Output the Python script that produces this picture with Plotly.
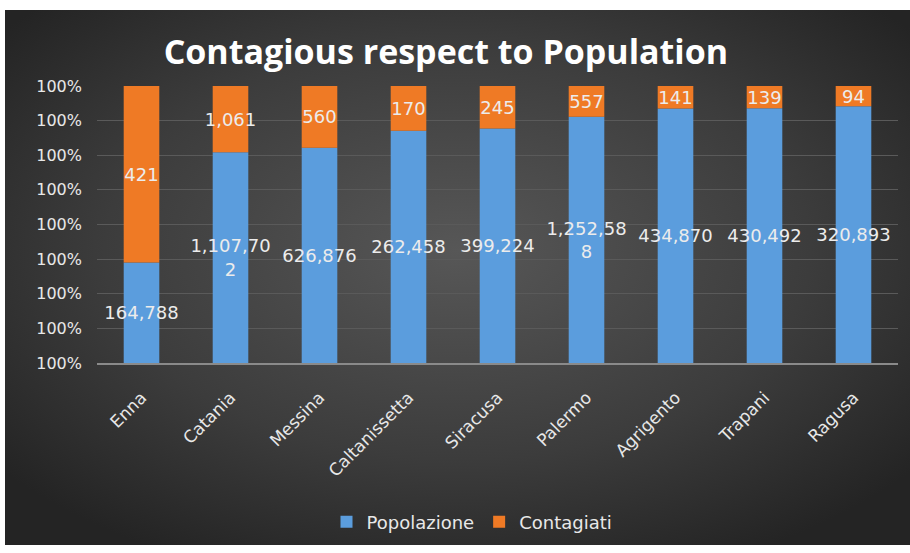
import base64
import plotly.graph_objects as go

provinces = ["Enna", "Catania", "Messina", "Caltanissetta", "Siracusa",
             "Palermo", "Agrigento", "Trapani", "Ragusa"]
popolazione = [164788, 1107702, 626876, 262458, 399224, 1252588, 434870, 430492, 320893]
contagiati = [421, 1061, 560, 170, 245, 557, 141, 139, 94]

Y_MIN, Y_MAX = 99.6, 100.0


def fmt(v):
    s = f"{v:,}"
    return s if len(s) <= 8 else s[:8] + "<br>" + s[8:]


# share of population (percent of the total of the two series)
share = [p / (p + c) * 100 for p, c in zip(popolazione, contagiati)]

W, H = 910, 553
L, R, T, B = 97, 12, 86, 190
pw, ph = W - L - R, H - T - B

svg = """<svg xmlns='http://www.w3.org/2000/svg' width='905' height='535' preserveAspectRatio='none'>
<defs><radialGradient id='g' cx='50%' cy='45%' r='65%'>
<stop offset='0' stop-color='#575757'/><stop offset='0.6' stop-color='#3c3c3c'/><stop offset='1' stop-color='#242424'/>
</radialGradient></defs><rect width='905' height='535' fill='url(#g)'/></svg>"""
src = "data:image/svg+xml;base64," + base64.b64encode(svg.encode()).decode()

LABEL_FONT = dict(color="#ececec", size=18, family="DejaVu Sans")

fig = go.Figure()
fig.add_trace(go.Bar(
    x=provinces, y=[s - Y_MIN for s in share], base=Y_MIN, name="Popolazione",
    marker=dict(color="#5b9ddd", line=dict(width=0)),
    text=[fmt(v) for v in popolazione], textposition="inside",
    insidetextanchor="middle", textangle=0, constraintext="none",
    textfont=LABEL_FONT, customdata=popolazione,
))
fig.add_trace(go.Bar(
    x=provinces, y=[Y_MAX - s for s in share], base=share, name="Contagiati",
    marker=dict(color="#ef7a25", line=dict(width=0)),
    text=[fmt(v) for v in contagiati], textposition="inside",
    insidetextanchor="middle", textangle=0, constraintext="none",
    textfont=LABEL_FONT, customdata=contagiati,
))

fig.update_layout(
    width=W, height=H, barmode="overlay", bargap=0.6,
    margin=dict(l=L, r=R, t=T, b=B),
    paper_bgcolor="white", plot_bgcolor="rgba(0,0,0,0)",
    font=dict(family="DejaVu Sans", color="#e8e8e8"),
    title=dict(text="<b>Contagious respect to Population</b>", x=0.49, xanchor="center",
               y=1 - 52 / H, yanchor="middle",
               font=dict(size=34, color="white", family="Open Sans")),
    images=[dict(source=src, xref="paper", yref="paper",
                 x=(5 - L) / pw, y=(T + ph - 10) / ph,
                 sizex=(W - 5) / pw, sizey=(545 - 10) / ph,
                 xanchor="left", yanchor="top", sizing="stretch", layer="below")],
    legend=dict(orientation="h", x=(472 - L) / pw, y=(T + ph - 522) / ph,
                xanchor="center", yanchor="middle",
                font=dict(size=18, color="#e8e8e8", family="DejaVu Sans"), traceorder="normal",
                bgcolor="rgba(0,0,0,0)"),
    showlegend=True,
)
fig.update_yaxes(range=[Y_MIN, Y_MAX], dtick=0.05, tick0=Y_MIN, tickformat=".0f", ticksuffix="%",
                 showgrid=True, gridcolor="#5a5a5a", gridwidth=1, zeroline=False,
                 tickfont=dict(size=16, color="#e8e8e8", family="DejaVu Sans"), ticks="",
                 ticklabelstandoff=14)
fig.update_xaxes(tickangle=-45, tickfont=dict(size=17, color="#e8e8e8", family="DejaVu Sans"),
                 showline=True, linecolor="#8a8a8a", linewidth=2, ticks="",
                 ticklabelstandoff=16)

fig.write_html("out.html", config={"displayModeBar": False},
               post_script="document.body.style.margin='0';")
